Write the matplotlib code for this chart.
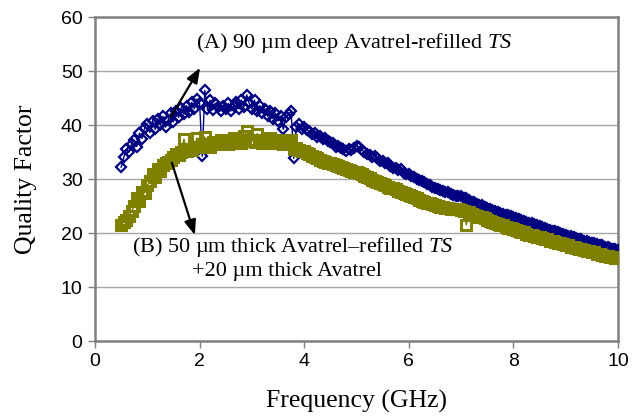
import matplotlib
matplotlib.use("Agg")
import matplotlib.pyplot as plt

# ---------------- data ----------------
freq_ghz = [
    0.50, 0.55, 0.60, 0.65, 0.70, 0.75, 0.80, 0.85, 0.90, 0.95,
    1.00, 1.05, 1.10, 1.15, 1.20, 1.25, 1.30, 1.35, 1.40, 1.45,
    1.50, 1.55, 1.60, 1.65, 1.70, 1.75, 1.80, 1.85, 1.90, 1.95,
    2.00, 2.05, 2.10, 2.15, 2.20, 2.25, 2.30, 2.35, 2.40, 2.45,
    2.50, 2.55, 2.60, 2.65, 2.70, 2.75, 2.80, 2.85, 2.90, 2.95,
    3.00, 3.05, 3.10, 3.15, 3.20, 3.25, 3.30, 3.35, 3.40, 3.45,
    3.50, 3.55, 3.60, 3.65, 3.70, 3.75, 3.80, 3.85, 3.90, 3.95,
    4.00, 4.05, 4.10, 4.15, 4.20, 4.25, 4.30, 4.35, 4.40, 4.45,
    4.50, 4.55, 4.60, 4.65, 4.70, 4.75, 4.80, 4.85, 4.90, 4.95,
    5.00, 5.05, 5.10, 5.15, 5.20, 5.25, 5.30, 5.35, 5.40, 5.45,
    5.50, 5.55, 5.60, 5.65, 5.70, 5.75, 5.80, 5.85, 5.90, 5.95,
    6.00, 6.05, 6.10, 6.15, 6.20, 6.25, 6.30, 6.35, 6.40, 6.45,
    6.50, 6.55, 6.60, 6.65, 6.70, 6.75, 6.80, 6.85, 6.90, 6.95,
    7.00, 7.05, 7.10, 7.15, 7.20, 7.25, 7.30, 7.35, 7.40, 7.45,
    7.50, 7.55, 7.60, 7.65, 7.70, 7.75, 7.80, 7.85, 7.90, 7.95,
    8.00, 8.05, 8.10, 8.15, 8.20, 8.25, 8.30, 8.35, 8.40, 8.45,
    8.50, 8.55, 8.60, 8.65, 8.70, 8.75, 8.80, 8.85, 8.90, 8.95,
    9.00, 9.05, 9.10, 9.15, 9.20, 9.25, 9.30, 9.35, 9.40, 9.45,
    9.50, 9.55, 9.60, 9.65, 9.70, 9.75, 9.80, 9.85, 9.90, 9.95,
    10.00,
]

# (A) 90 um deep Avatrel-refilled TS
q_a = [
    32.2, 34.0, 35.5, 35.0, 36.5, 37.2, 36.0, 38.5, 37.5, 39.5,
    40.2, 38.6, 40.8, 39.2, 41.2, 40.0, 41.6, 39.6, 41.0, 42.2,
    40.6, 42.6, 41.4, 43.2, 42.0, 43.6, 42.4, 44.2, 43.0, 44.8,
    44.0, 34.2, 46.4, 43.0, 44.6, 42.8, 44.0, 43.4, 42.6, 43.6,
    43.0, 44.0, 42.6, 43.6, 44.2, 43.0, 44.6, 43.4, 45.6, 44.0,
    43.0, 44.6, 42.6, 43.6, 42.2, 43.0, 41.6, 42.6, 41.2, 42.2,
    40.8, 41.6, 39.2, 41.4, 42.0, 42.6, 33.8, 39.6, 40.2, 39.2,
    39.6, 39.0, 38.8, 38.4, 38.6, 37.8, 38.0, 37.4, 37.6, 37.0,
    36.9, 36.6, 36.0, 36.2, 35.8, 35.6, 35.2, 35.5, 35.4, 35.8,
    36.2, 35.9, 35.4, 35.0, 34.6, 34.4, 34.0, 34.2, 33.8, 33.4,
    33.4, 33.0, 32.9, 32.4, 32.1, 32.0, 31.6, 31.8, 31.2, 31.0,
    31.0, 30.6, 30.4, 30.0, 29.8, 29.6, 29.4, 29.0, 28.9, 28.6,
    28.4, 28.2, 28.0, 27.8, 27.6, 27.6, 27.2, 27.0, 26.9, 26.8,
    26.8, 26.5, 26.4, 26.1, 25.8, 25.7, 25.4, 25.2, 25.1, 24.8,
    24.6, 24.5, 24.2, 24.1, 23.8, 23.7, 23.6, 23.4, 23.3, 23.1,
    23.0, 22.8, 22.6, 22.5, 22.2, 22.1, 21.9, 21.8, 21.6, 21.4,
    21.3, 21.1, 21.0, 20.8, 20.6, 20.4, 20.3, 20.2, 20.0, 19.8,
    19.7, 19.5, 19.4, 19.2, 19.1, 18.9, 18.8, 18.6, 18.5, 18.3,
    18.2, 18.1, 17.9, 17.8, 17.7, 17.5, 17.4, 17.3, 17.1, 17.0,
    16.9,
]

# (B) 50 um thick Avatrel-refilled TS + 20 um thick Avatrel
q_b = [
    21.5, 22.0, 22.4, 23.2, 24.0, 25.0, 26.4, 26.0, 27.6, 27.4,
    28.8, 29.6, 31.0, 30.4, 31.8, 31.4, 32.6, 33.0, 33.2, 33.6,
    34.0, 34.6, 34.4, 35.0, 37.4, 35.2, 35.6, 35.4, 36.0, 37.6,
    36.0, 36.4, 37.8, 36.2, 36.0, 36.8, 36.4, 36.6, 37.2, 36.6,
    36.8, 36.4, 37.0, 37.6, 36.8, 37.2, 36.6, 38.0, 38.8, 37.0,
    37.2, 36.8, 38.4, 37.0, 36.6, 37.2, 36.8, 37.6, 36.6, 37.0,
    36.8, 37.2, 36.4, 37.0, 36.6, 37.2, 35.6, 35.8, 35.4, 35.2,
    35.2, 34.9, 34.6, 34.2, 34.0, 33.8, 33.6, 33.3, 33.2, 33.0,
    32.9, 32.8, 32.6, 32.4, 32.2, 32.0, 31.8, 31.7, 31.5, 31.3,
    31.3, 31.1, 31.0, 30.6, 30.4, 30.2, 29.9, 29.7, 29.5, 29.2,
    29.1, 28.9, 28.6, 28.4, 28.3, 28.1, 27.8, 27.6, 27.4, 27.2,
    27.0, 26.8, 26.6, 26.4, 26.2, 26.0, 25.8, 25.6, 25.5, 25.3,
    25.2, 25.0, 24.9, 24.8, 24.7, 24.6, 24.5, 24.5, 24.4, 24.4,
    24.3, 24.1, 21.5, 23.8, 23.6, 23.4, 23.2, 23.0, 22.9, 22.7,
    22.5, 22.3, 22.1, 21.9, 21.7, 21.5, 21.4, 21.2, 21.0, 20.9,
    20.7, 20.6, 20.4, 20.2, 20.1, 19.9, 19.7, 19.6, 19.4, 19.3,
    19.2, 19.1, 18.9, 18.8, 18.6, 18.5, 18.3, 18.2, 18.1, 17.9,
    17.8, 17.7, 17.5, 17.4, 17.3, 17.1, 17.0, 16.9, 16.7, 16.6,
    16.5, 16.4, 16.2, 16.1, 16.0, 15.8, 15.7, 15.6, 15.5, 15.4,
    15.3,
]

x_ticks = [0, 2, 4, 6, 8, 10]
y_ticks = [0, 10, 20, 30, 40, 50, 60]

label_a = r"(A) 90 µm deep Avatrel-refilled $TS$"
label_b1 = r"(B) 50 µm thick Avatrel–refilled $TS$"
label_b2 = "+20 µm thick Avatrel"

# ---------------- style ----------------
plt.rcParams["mathtext.fontset"] = "custom"
plt.rcParams["mathtext.rm"] = "Liberation Serif"
plt.rcParams["mathtext.it"] = "Liberation Serif:italic"

fig = plt.figure(figsize=(6.43, 4.18), dpi=100)
ax = fig.add_axes([95 / 643, 77 / 418, 523 / 643, 324 / 418])

navy = "#000080"
olive = "#808000"

ax.plot(freq_ghz, q_a, color=navy, lw=1.0, marker="D", ms=5.0,
        mfc="none", mec=navy, mew=1.6, zorder=3)
ax.plot(freq_ghz, q_b, color=olive, lw=1.0, marker="s", ms=7.5,
        mfc="none", mec=olive, mew=2.2, zorder=4)

ax.set_xlim(0, 10)
ax.set_ylim(0, 60)
ax.set_xticks(x_ticks)
ax.set_yticks(y_ticks)
ax.yaxis.grid(True, color="#a6a6a6", lw=1.0)
ax.set_axisbelow(True)

for s in ax.spines.values():
    s.set_color("#808080")
    s.set_linewidth(1.8)

ax.tick_params(axis="both", direction="out", length=5, width=1,
               color="#808080", labelsize=14, pad=4)
for lab in ax.get_xticklabels() + ax.get_yticklabels():
    lab.set_fontfamily("Liberation Sans")

ax.set_xlabel("Frequency (GHz)", family="Liberation Serif", fontsize=18.5,
              labelpad=14)
ax.set_ylabel("Quality Factor", family="Liberation Serif", fontsize=18.5,
              labelpad=17)

ax.text(1.93, 55.2, label_a, family="Liberation Serif", fontsize=16,
        ha="left", va="center")
ax.text(0.70, 17.4, label_b1, family="Liberation Serif", fontsize=16,
        ha="left", va="center")
ax.text(1.85, 12.9, label_b2, family="Liberation Serif", fontsize=16,
        ha="left", va="center")

arrow_kw = dict(arrowstyle="-|>,head_length=0.9,head_width=0.35",
                color="black", lw=1.6, shrinkA=0, shrinkB=0)
ax.annotate("", xy=(2.01, 50.6), xytext=(1.45, 41.5), arrowprops=arrow_kw,
            zorder=6)
ax.annotate("", xy=(1.91, 19.6), xytext=(1.47, 33.0), arrowprops=arrow_kw,
            zorder=6)

fig.savefig("out.png", dpi=100)
